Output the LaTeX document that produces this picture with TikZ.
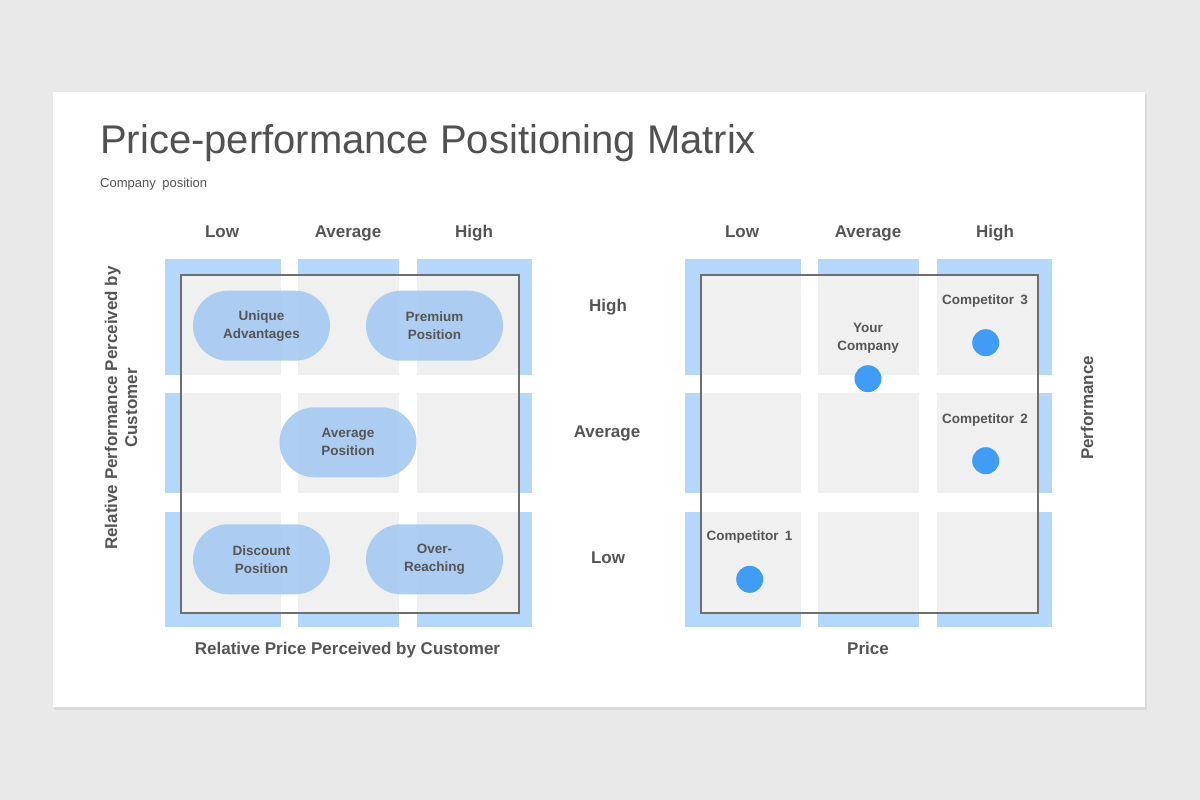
\documentclass[tikz,border=0pt]{standalone}
\usepackage{fontspec}
\setmainfont{Liberation Sans}
\definecolor{bgc}{HTML}{E9E9EA}
\definecolor{txt}{HTML}{555555}
\definecolor{cellblue}{HTML}{B5D7FB}
\definecolor{cellgray}{HTML}{F0F0F0}
\definecolor{framec}{HTML}{6E6E6E}
\definecolor{pillc}{HTML}{A3C9F2}
\definecolor{dotc}{HTML}{419CF5}
\definecolor{shadowc}{HTML}{DADADB}
\tikzset{
  hdr/.style={font=\bfseries\fontsize{17}{20}\selectfont, text=txt, inner sep=0pt, anchor=base},
  pilltxt/.style={font=\bfseries\fontsize{13.5}{18}\selectfont, text=txt, align=center},
  pill/.style={pilltxt, fill=pillc, fill opacity=0.88, text opacity=1, rounded corners=35pt, minimum width=137pt, minimum height=70pt, inner sep=0pt},
  comp/.style={font=\bfseries\fontsize{13.5}{18}\selectfont, text=txt, align=center, inner sep=0pt},
  dot/.style={circle, fill=dotc, minimum size=27pt, inner sep=0pt},
  blue/.style={fill=cellblue},
  gray/.style={fill=cellgray},
  frame/.style={draw=framec, line width=1.4pt},
}
\begin{document}
\begin{tikzpicture}[x=1pt,y=-1pt]
\useasboundingbox (0,0) rectangle (1200,800);
\fill[bgc] (0,0) rectangle (1200,800);
\fill[shadowc] (54,94) rectangle (1147,710);
\fill[white] (53,92) rectangle (1145,707);

% title
\node[font=\fontsize{40}{44}\selectfont, text=txt!95!black, anchor=base west, inner sep=0pt] (title) at (100,153) {Price-performance Positioning Matrix};
\node[font=\fontsize{13}{15}\selectfont, text=txt, anchor=base west, inner sep=0pt] (subtitle) at (100,187) {Company\hspace{0.5em}position};

% ---------- left matrix ----------
\foreach \xa/\xb [count=\i] in {165/281,298/399,417/532}{
  \foreach \ya/\yb [count=\j] in {259/375,393/493,512/627}{
    \fill[blue] (\xa,\ya) rectangle (\xb,\yb);
  }
}
\begin{scope}
\clip (181,275) rectangle (519,613);
\foreach \xa/\xb in {165/281,298/399,417/532}{
  \foreach \ya/\yb in {259/375,393/493,512/627}{
    \fill[gray] (\xa,\ya) rectangle (\xb,\yb);
  }
}
\end{scope}
\draw[frame] (181,275) rectangle (519,613);

\node[pill] (ua) at (261.5,325.7) {Unique\\Advantages};
\node[pill] (pp) at (434.5,325.7) {Premium\\Position};
\node[pill] (ap) at (348,442.3) {Average\\Position};
\node[pill] (dp) at (261.5,559.3) {Discount\\Position};
\node[pill] (or) at (434.5,559.3) {Over-\\Reaching};

\node[hdr] (llow) at (222,237.5) {Low};
\node[hdr] (lavg) at (348,237.5) {Average};
\node[hdr] (lhigh) at (474,237.5) {High};

\node[font=\bfseries\fontsize{17}{20}\selectfont, text=txt, align=center, rotate=90, inner sep=0pt] (lyl) at (121,408) {Relative Performance Perceived by\\Customer};
\node[hdr] (lxl) at (347.5,654) {Relative Price Perceived by Customer};

% ---------- middle row labels ----------
\node[hdr] (mhigh) at (608,311) {High};
\node[hdr] (mavg) at (607,437) {Average};
\node[hdr] (mlow) at (608,563) {Low};

% ---------- right matrix ----------
\foreach \xa/\xb in {685/801,818/919,937/1052}{
  \foreach \ya/\yb in {259/375,393/493,512/627}{
    \fill[blue] (\xa,\ya) rectangle (\xb,\yb);
  }
}
\begin{scope}
\clip (701,275) rectangle (1038,613);
\foreach \xa/\xb in {685/801,818/919,937/1052}{
  \foreach \ya/\yb in {259/375,393/493,512/627}{
    \fill[gray] (\xa,\ya) rectangle (\xb,\yb);
  }
}
\end{scope}
\draw[frame] (701,275) rectangle (1038,613);

\node[hdr] (rlow) at (742,237.5) {Low};
\node[hdr] (ravg) at (868,237.5) {Average};
\node[hdr] (rhigh) at (995,237.5) {High};

\node[comp] (c3l) at (985,301.5) {Competitor\hspace{0.45em}3};
\node[dot] (c3) at (985.7,342.7) {};
\node[comp] (ycl) at (868,338) {Your\\Company};
\node[dot] (yc) at (868,378.7) {};
\node[comp] (c2l) at (985,420) {Competitor\hspace{0.45em}2};
\node[dot] (c2) at (985.7,460.7) {};
\node[comp] (c1l) at (749.5,537.5) {Competitor\hspace{0.45em}1};
\node[dot] (c1) at (749.7,579.3) {};

\node[hdr, rotate=90, anchor=center] (ryl) at (1087,408) {Performance};
\node[hdr] (rxl) at (868,654) {Price};
\end{tikzpicture}
\end{document}
